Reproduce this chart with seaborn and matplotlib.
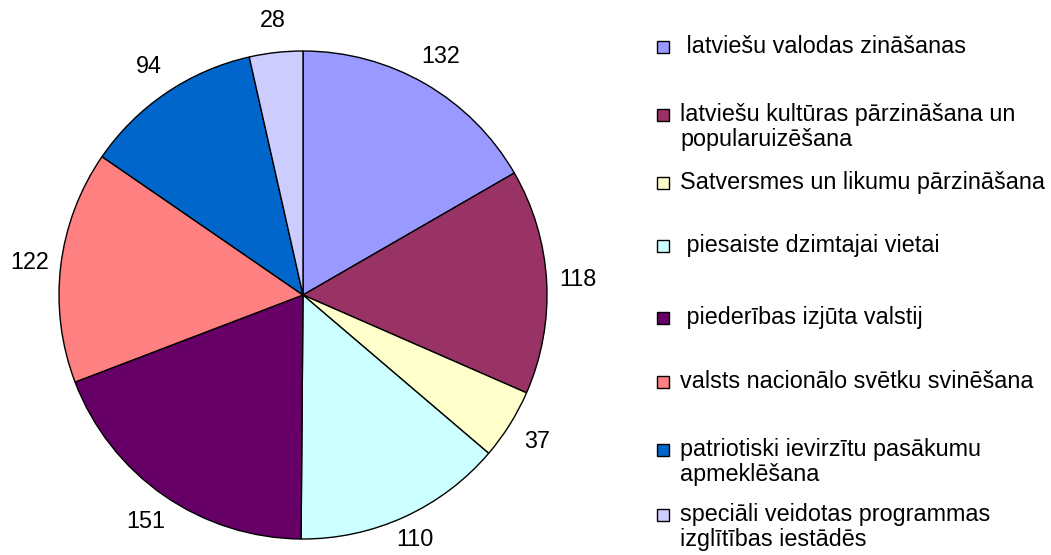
import numpy as np
import matplotlib
matplotlib.use("Agg")
import matplotlib.pyplot as plt
import seaborn as sns
from matplotlib.patches import Rectangle

sns.set_theme(style="white")
plt.rcParams['font.family'] = ['Liberation Sans', 'DejaVu Sans']

# data
categories = [
    " latviešu valodas zināšanas",
    "latviešu kultūras pārzināšana un\npopularuizēšana",
    "Satversmes un likumu pārzināšana",
    " piesaiste dzimtajai vietai",
    " piederības izjūta valstij",
    "valsts nacionālo svētku svinēšana",
    "patriotiski ievirzītu pasākumu\napmeklēšana",
    "speciāli veidotas programmas\nizglītības iestādēs",
]
values = [132, 118, 37, 110, 151, 122, 94, 28]
colors = ["#9999FF", "#993366", "#FFFFCC", "#CCFFFF",
          "#660066", "#FF8080", "#0066CC", "#CCCCFF"]

# legend row positions (px from top, centre of first line)
legend_rows = [47, 115, 183, 246, 318, 382, 450, 515]

W, H = 1051, 555
FS = 16.8
fig = plt.figure(figsize=(W / 100, H / 100), dpi=100)

# pie centre (303, 295) px, radius 244 px, limits +-1.25
R = 244
half = 1.25 * R
ax = fig.add_axes([(303 - half) / W, (H - 295 - half) / H, 2 * half / W, 2 * half / H])

wedges, texts = ax.pie(values, labels=[str(v) for v in values], colors=colors,
                       startangle=90, counterclock=False, labeldistance=1.13,
                       wedgeprops=dict(edgecolor="black", linewidth=1.0),
                       textprops=dict(fontsize=FS, color="black"))
for t in texts:
    t.set_ha("center")
    t.set_va("center")
# pull the bottom label (110) in a touch so it stays on the page
x, y = texts[3].get_position()
texts[3].set_position((x * 1.10 / 1.13, y * 1.10 / 1.13))
ax.set_xlim(-1.25, 1.25)
ax.set_ylim(-1.25, 1.25)
ax.set_aspect("equal")
ax.axis("off")

# legend drawn by hand so the marker sits on the first line of wrapped labels
sq = 12
for lab, col, yc in zip(categories, colors, legend_rows):
    fig.patches.append(Rectangle((657 / W, (H - yc - sq / 2) / H), sq / W, sq / H,
                                 facecolor=col, edgecolor="black", linewidth=1.0,
                                 transform=fig.transFigure, figure=fig))
    fig.text(680 / W, (H - yc + 12) / H, lab, fontsize=FS, color="black",
             ha="left", va="top", linespacing=1.1)

fig.savefig("out.png", dpi=100)
